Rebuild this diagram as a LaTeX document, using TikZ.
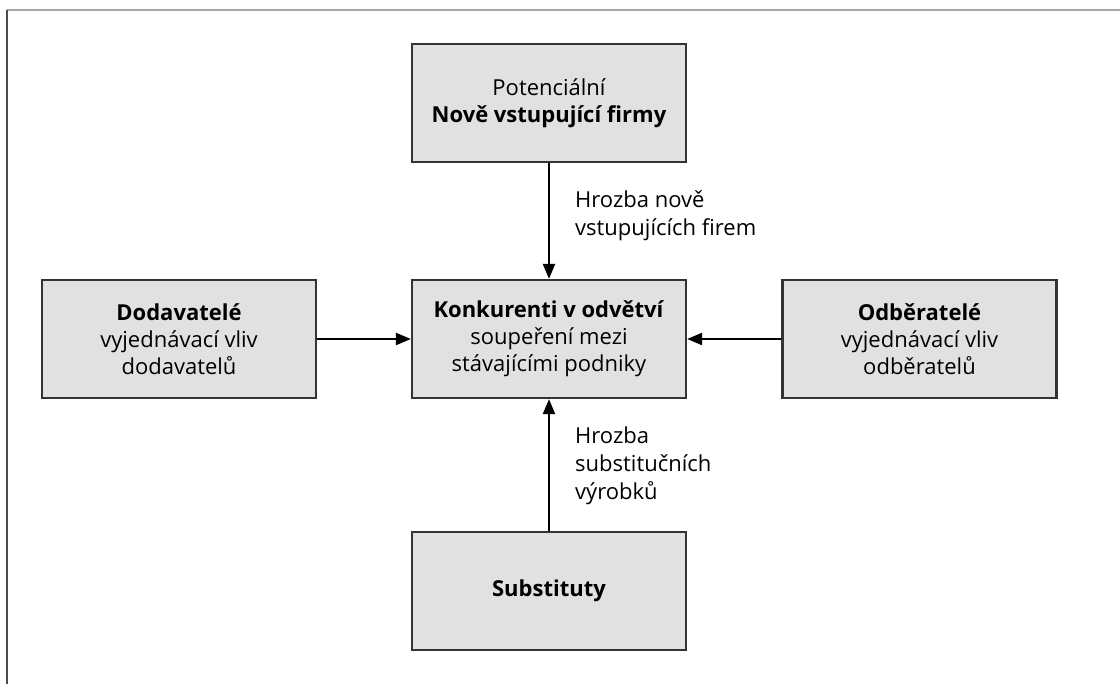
\documentclass[tikz,border=0pt]{standalone}
\usepackage{fontspec}
\setmainfont{Open Sans}
\usetikzlibrary{arrows.meta}
\definecolor{boxfill}{HTML}{E1E1E1}
\definecolor{boxline}{HTML}{333333}
\tikzset{
  force/.style={draw=boxline, line width=2.2pt, fill=boxfill,
    minimum width=274pt, minimum height=118pt, inner sep=0pt,
    align=center, font=\fontsize{22}{27}\selectfont},
  link/.style={line width=2.2pt, -{Triangle[length=15pt,width=12pt]}},
  note/.style={align=left, anchor=north west, inner sep=0pt,
    font=\fontsize{22}{28}\selectfont}
}
\begin{document}
\begin{tikzpicture}[x=1pt,y=-1pt]
\useasboundingbox (0,0) rectangle (1120,684);
\fill[white] (0,0) rectangle (1120,684);
% page frame
\draw[line width=2.5pt, color=black!35] (7,10) -- (1120,10);
\draw[line width=2.5pt, color=black!70] (7,10) -- (7,684);

\node[force] (top) at (549,103) {Potenciální\\\textbf{Nově vstupující firmy}};
\node[force] (mid) at (549,339) {\textbf{Konkurenti v odvětví}\\soupeření mezi\\stávajícími podniky};
\node[force] (lft) at (179,339) {\textbf{Dodavatelé}\\vyjednávací vliv\\dodavatelů};
\node[force] (rgt) at (919.5,339) {\textbf{Odběratelé}\\vyjednávací vliv\\odběratelů};
\node[force] (bot) at (549,591) {\textbf{Substituty}};

\draw[link] (top) -- (mid);
\draw[link] (bot) -- (mid);
\draw[link] (lft) -- (mid);
\draw[link] (rgt) -- (mid);

\node[note] (n1) at (575,190) {Hrozba nově\\vstupujících firem};
\node[note] (n2) at (575,427) {Hrozba\\substitučních\\výrobků};
\end{tikzpicture}
\end{document}
